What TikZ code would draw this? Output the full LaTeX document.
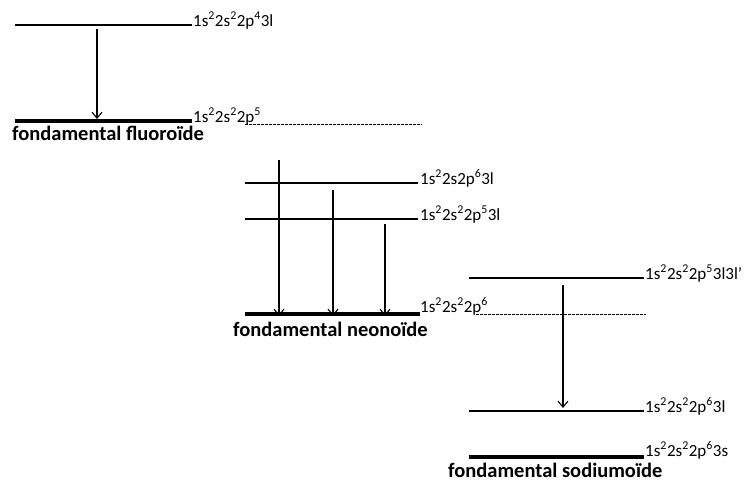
\documentclass[tikz,border=0pt]{standalone}
\usepackage{fontspec}
\setmainfont{Carlito}
\usetikzlibrary{positioning}
\usetikzlibrary{arrows.meta}

\tikzset{
	level/.style={line width=1.5pt},
	ground/.style={line width=4pt},
	limit/.style={line width=0.7pt, dash pattern=on 2.5pt off 1.5pt},
	trans/.style={-{Straight Barb[length=6pt,width=10pt]}, line width=1.1pt},
	config/.style={anchor=base west, inner sep=0pt, font=\fontsize{17}{17}\selectfont},
	title/.style={anchor=base west, inner sep=0pt, font=\fontsize{20.5}{20.5}\selectfont\bfseries}
}

\begin{document}
\begin{tikzpicture}[x=1pt, y=-1pt]
	\useasboundingbox (0,0) rectangle (749,482);
	
	% fluoroide
	\coordinate (F1a) at (15,25);
	\coordinate (F1b) at (192,25);
	\coordinate (F0a) at (15,121);
	\coordinate (F0b) at (192,121);
	\coordinate (Fda) at (245,124);
	\coordinate (Fdb) at (422,124);
	\coordinate (Fup) at (97,29);
	\coordinate (Fdn) at (97,119);
	\node[config] (lF1) at (193,26) {1s\textsuperscript{2}2s\textsuperscript{2}2p\textsuperscript{4}3l};
	\node[config] (lF0) at (193,122) {1s\textsuperscript{2}2s\textsuperscript{2}2p\textsuperscript{5}};
	\node[title] (tF) at (12,140) {fondamental fluoroïde};
	
	% neonoide
	\coordinate (N2a) at (245,183);
	\coordinate (N2b) at (418,183);
	\coordinate (N1a) at (245,219);
	\coordinate (N1b) at (418,219);
	\coordinate (N0a) at (245,314);
	\coordinate (N0b) at (420,314);
	\coordinate (Nda) at (476,314);
	\coordinate (Ndb) at (646,314);
	\coordinate (Nup1) at (279,160);
	\coordinate (Nup2) at (333,190);
	\coordinate (Nup3) at (385,224);
	\node[config] (lN2) at (420,184) {1s\textsuperscript{2}2s2p\textsuperscript{6}3l};
	\node[config] (lN1) at (420,220) {1s\textsuperscript{2}2s\textsuperscript{2}2p\textsuperscript{5}3l};
	\node[config] (lN0) at (420,312) {1s\textsuperscript{2}2s\textsuperscript{2}2p\textsuperscript{6}};
	\node[title] (tN) at (233,336) {fondamental neonoïde};
	
	% sodiumoide
	\coordinate (S2a) at (469,278);
	\coordinate (S2b) at (644,278);
	\coordinate (S1a) at (469,411);
	\coordinate (S1b) at (644,411);
	\coordinate (S0a) at (469,457);
	\coordinate (S0b) at (644,457);
	\coordinate (Sup) at (563,285);
	\coordinate (Sdn) at (563,408);
	\node[config] (lS2) at (645,279) {1s\textsuperscript{2}2s\textsuperscript{2}2p\textsuperscript{5}3l3l'};
	\node[config] (lS1) at (645,412) {1s\textsuperscript{2}2s\textsuperscript{2}2p\textsuperscript{6}3l};
	\node[config] (lS0) at (645,456) {1s\textsuperscript{2}2s\textsuperscript{2}2p\textsuperscript{6}3s};
	\node[title] (tS) at (448,477) {fondamental sodiumoïde};
	
	\draw[level]  (F1a) -- (F1b);
	\draw[ground] (F0a) -- (F0b);
	\draw[limit]  (Fda) -- (Fdb);
	\draw[trans]  (Fup) -- (Fdn);
	
	\draw[level]  (N2a) -- (N2b);
	\draw[level]  (N1a) -- (N1b);
	\draw[ground] (N0a) -- (N0b);
	\draw[limit]  (Nda) -- (Ndb);
	\draw[trans]  (Nup1) -- ([yshift=-2pt]Nup1 |- N0a);
	\draw[trans]  (Nup2) -- ([yshift=-2pt]Nup2 |- N0a);
	\draw[trans]  (Nup3) -- ([yshift=-2pt]Nup3 |- N0a);
	
	\draw[level]  (S2a) -- (S2b);
	\draw[level]  (S1a) -- (S1b);
	\draw[ground] (S0a) -- (S0b);
	\draw[trans]  (Sup) -- (Sdn);
\end{tikzpicture}
\end{document}
